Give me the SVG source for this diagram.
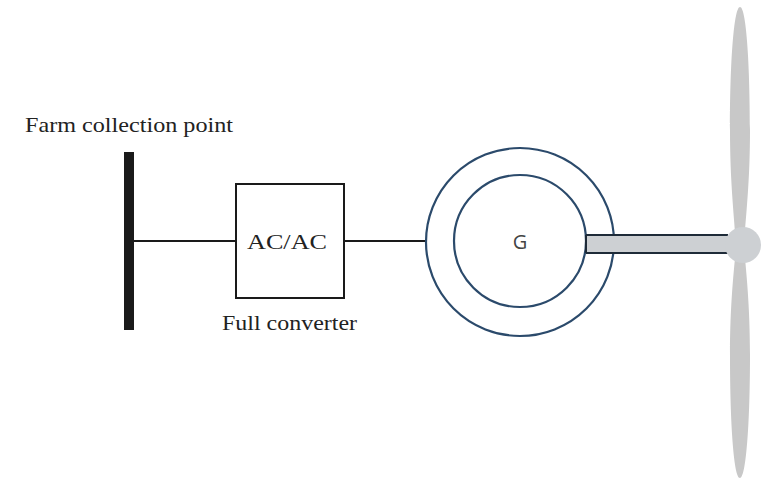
<svg xmlns="http://www.w3.org/2000/svg" width="775" height="480" viewBox="0 0 775 480">
  <style>
    .lbl { font-family: "Liberation Serif", "DejaVu Serif", serif; fill: #222; }
    .wire { stroke: #1a1a1a; stroke-width: 2; fill: none; }
    .ring { stroke: #2b4a6b; stroke-width: 2.2; fill: none; }
    .blade { fill: #c8c8c8; }
  </style>
  <rect width="775" height="480" fill="#ffffff"/>

  <!-- connectors -->
  <g id="connectors">
    <line class="wire" x1="134" y1="241" x2="236" y2="241"/>
    <line class="wire" x1="344" y1="241" x2="426" y2="241"/>
  </g>

  <!-- busbar at the farm collection point -->
  <g id="bus">
    <rect x="124" y="152" width="10" height="178" fill="#1a1a1a"/>
    <text class="lbl" x="25" y="132" font-size="21" textLength="208" lengthAdjust="spacingAndGlyphs">Farm collection point</text>
  </g>

  <!-- full converter -->
  <g id="converter">
    <rect x="236" y="184" width="108" height="114" fill="#ffffff" stroke="#1a1a1a" stroke-width="2"/>
    <text class="lbl" x="247" y="249" font-size="22" textLength="80" lengthAdjust="spacingAndGlyphs">AC/AC</text>
    <text class="lbl" x="222" y="330" font-size="21" textLength="135" lengthAdjust="spacingAndGlyphs">Full converter</text>
  </g>

  <!-- generator -->
  <g id="generator">
    <circle class="ring" cx="520" cy="242" r="94"/>
    <circle class="ring" cx="520" cy="241" r="66"/>
    <text x="520" y="249" font-family="'Open Sans', 'Liberation Sans', sans-serif" font-size="20" fill="#444" text-anchor="middle">G</text>
  </g>

  <!-- shaft, hub and blades -->
  <g id="rotor">
    <rect x="586" y="235" width="142" height="18" fill="#cdd0d3"/>
    <line x1="586" y1="235" x2="728" y2="235" stroke="#1e2b38" stroke-width="2"/>
    <line x1="586" y1="253" x2="728" y2="253" stroke="#1e2b38" stroke-width="2"/>
    <line x1="586" y1="235" x2="586" y2="253" stroke="#1e2b38" stroke-width="2"/>
    <path class="blade" d="M740,7 C746,7 750,60 750,130 C750,180 746,215 745,232 L735,232 C734,215 730,180 730,130 C730,60 734,7 740,7 Z"/>
    <path class="blade" d="M740,478 C746,478 750,425 750,355 C750,305 746,270 745,258 L735,258 C734,270 730,305 730,355 C730,425 734,478 740,478 Z"/>
    <circle cx="743" cy="245" r="18" fill="#cdd0d3"/>
  </g>
</svg>
